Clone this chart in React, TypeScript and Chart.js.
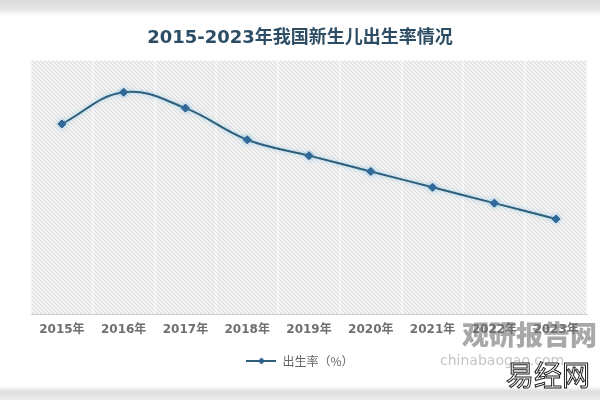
import React, { useEffect, useRef } from "react";
import { Chart, registerables } from "chart.js";

Chart.register(...registerables);

const chartTitle = "2015-2023年我国新生儿出生率情况";
const categories = ["2015年", "2016年", "2017年", "2018年", "2019年", "2020年", "2021年", "2022年", "2023年"];
const birthRate = [12, 14, 13, 11, 10, 9, 8, 7, 6];
const seriesLabel = "出生率（%）";
const yMin = 0;
const yMax = 16;

const LINE_COLOR = "#2d5f7b";
const POINT_COLOR = "#2a5f8f";
const FONT = '"DejaVu Sans", "Noto Sans CJK SC", sans-serif';
const CJK_FONT = '"Noto Sans CJK SC", sans-serif';

function makeHatch(ctx: CanvasRenderingContext2D): CanvasPattern | string {
  const c = document.createElement("canvas");
  c.width = 4;
  c.height = 4;
  const p = c.getContext("2d");
  if (!p) return "#eeeeee";
  p.fillStyle = "#f3f3f3";
  p.fillRect(0, 0, 4, 4);
  p.strokeStyle = "#d8d8d8";
  p.lineWidth = 1;
  p.beginPath();
  p.moveTo(-1, -1);
  p.lineTo(5, 5);
  p.moveTo(-1, 3);
  p.lineTo(1, 5);
  p.moveTo(3, -1);
  p.lineTo(5, 1);
  p.stroke();
  return ctx.createPattern(c, "repeat") || "#eeeeee";
}

function makeLegendIcon(): HTMLCanvasElement {
  const c = document.createElement("canvas");
  c.width = 30;
  c.height = 10;
  const p = c.getContext("2d");
  if (p) {
    p.strokeStyle = LINE_COLOR;
    p.lineWidth = 2;
    p.beginPath();
    p.moveTo(0, 5);
    p.lineTo(30, 5);
    p.stroke();
    p.fillStyle = POINT_COLOR;
    p.beginPath();
    p.moveTo(15, 1.5);
    p.lineTo(18.5, 5);
    p.lineTo(15, 8.5);
    p.lineTo(11.5, 5);
    p.closePath();
    p.fill();
  }
  return c;
}

const hatchBackground = {
  id: "hatchBackground",
  beforeDraw(chart: any) {
    const { ctx, chartArea } = chart;
    if (!chartArea) return;
    ctx.save();
    ctx.fillStyle = makeHatch(ctx);
    ctx.fillRect(chartArea.left, chartArea.top, chartArea.right - chartArea.left, chartArea.bottom - chartArea.top);
    ctx.restore();
  },
};

const lineGlow = {
  id: "lineGlow",
  beforeDatasetsDraw(chart: any) {
    const ctx = chart.ctx;
    ctx.save();
    ctx.shadowColor = "rgba(110, 185, 230, 0.7)";
    ctx.shadowBlur = 4;
  },
  afterDatasetsDraw(chart: any) {
    chart.ctx.restore();
  },
};

export default function App() {
  const canvasRef = useRef<HTMLCanvasElement | null>(null);

  useEffect(() => {
    const canvas = canvasRef.current;
    if (!canvas) return;
    const legendIcon = makeLegendIcon();
    const chart = new Chart(canvas, {
      type: "line",
      data: {
        labels: categories,
        datasets: [
          {
            label: seriesLabel,
            data: birthRate,
            borderColor: LINE_COLOR,
            backgroundColor: POINT_COLOR,
            borderWidth: 2,
            tension: 0.4,
            pointStyle: "rectRot",
            pointRadius: 4,
            pointBackgroundColor: POINT_COLOR,
            pointBorderColor: POINT_COLOR,
            pointBorderWidth: 1,
            fill: false,
          },
        ],
      },
      options: {
        responsive: false,
        animation: false,
        layout: { padding: { left: 13, right: 13, top: 0, bottom: 23 } },
        plugins: {
          title: {
            display: true,
            text: chartTitle,
            color: "#2c4d63",
            font: { family: FONT, size: 18, weight: "bold" },
            padding: { top: 28, bottom: 11 },
          },
          legend: {
            display: true,
            position: "bottom",
            labels: {
              usePointStyle: true,
              pointStyleWidth: 30,
              padding: 10,
              color: "#666666",
              font: { family: CJK_FONT, size: 12 },
              generateLabels: () => [
                {
                  text: seriesLabel,
                  pointStyle: legendIcon as any,
                  fillStyle: POINT_COLOR,
                  strokeStyle: LINE_COLOR,
                  lineWidth: 0,
                  hidden: false,
                  datasetIndex: 0,
                  fontColor: "#666666",
                } as any,
              ],
            },
          },
          tooltip: { enabled: false },
        },
        scales: {
          x: {
            type: "category",
            offset: true,
            grid: {
              display: true,
              offset: true,
              color: "rgba(255,255,255,0.45)",
              lineWidth: 2,
              drawTicks: false,
            },
            border: { display: true, color: "#cfcfcf", width: 1 },
            ticks: {
              padding: 9,
              color: "#6f6f6f",
              font: { family: FONT, size: 12, weight: "bold" },
              maxRotation: 0,
              autoSkip: false,
            },
            afterFit: (axis: any) => {
              axis.height = 31;
            },
          },
          y: {
            display: true,
            min: yMin,
            max: yMax,
            grid: { display: false, drawTicks: false },
            border: { display: false },
            ticks: { display: false },
            afterFit: (axis: any) => {
              axis.width = 18;
            },
          },
        },
      },
      plugins: [hatchBackground, lineGlow],
    });
    return () => chart.destroy();
  }, []);

  return (
    <div
      style={{
        position: "absolute",
        left: 0,
        top: 0,
        width: 600,
        height: 400,
        background: "#ffffff",
        overflow: "hidden",
      }}
    >
      <canvas ref={canvasRef} width={600} height={400} style={{ display: "block", width: 600, height: 400 }} />
      <div
        style={{
          position: "absolute",
          left: 0,
          top: 0,
          width: 600,
          height: 16,
          background: "linear-gradient(#dcdcdc, #e6e6e6 60%, #ffffff)",
          pointerEvents: "none",
        }}
      />
      <div
        style={{
          position: "absolute",
          left: 0,
          top: 386,
          width: 600,
          height: 14,
          background: "linear-gradient(#ffffff, #dedede 40%, #ececec)",
          pointerEvents: "none",
        }}
      />
      <div
        style={{
          position: "absolute",
          left: 462,
          top: 314,
          fontFamily: CJK_FONT,
          fontWeight: 900,
          fontSize: 27,
          color: "rgba(110,110,110,0.6)",
          whiteSpace: "nowrap",
          pointerEvents: "none",
        }}
      >
        观研报告网
      </div>
      <div
        style={{
          position: "absolute",
          left: 440,
          top: 352,
          fontFamily: '"DejaVu Sans", sans-serif',
          fontSize: 14,
          color: "rgba(140,140,140,0.5)",
          whiteSpace: "nowrap",
          pointerEvents: "none",
        }}
      >
        chinabaogao.com
      </div>
      <div
        style={{
          position: "absolute",
          left: 506,
          top: 354,
          fontFamily: CJK_FONT,
          fontSize: 28,
          color: "#ffffff",
          WebkitTextStroke: "1px #222222",
          whiteSpace: "nowrap",
          pointerEvents: "none",
        }}
      >
        易经网
      </div>
    </div>
  );
}
